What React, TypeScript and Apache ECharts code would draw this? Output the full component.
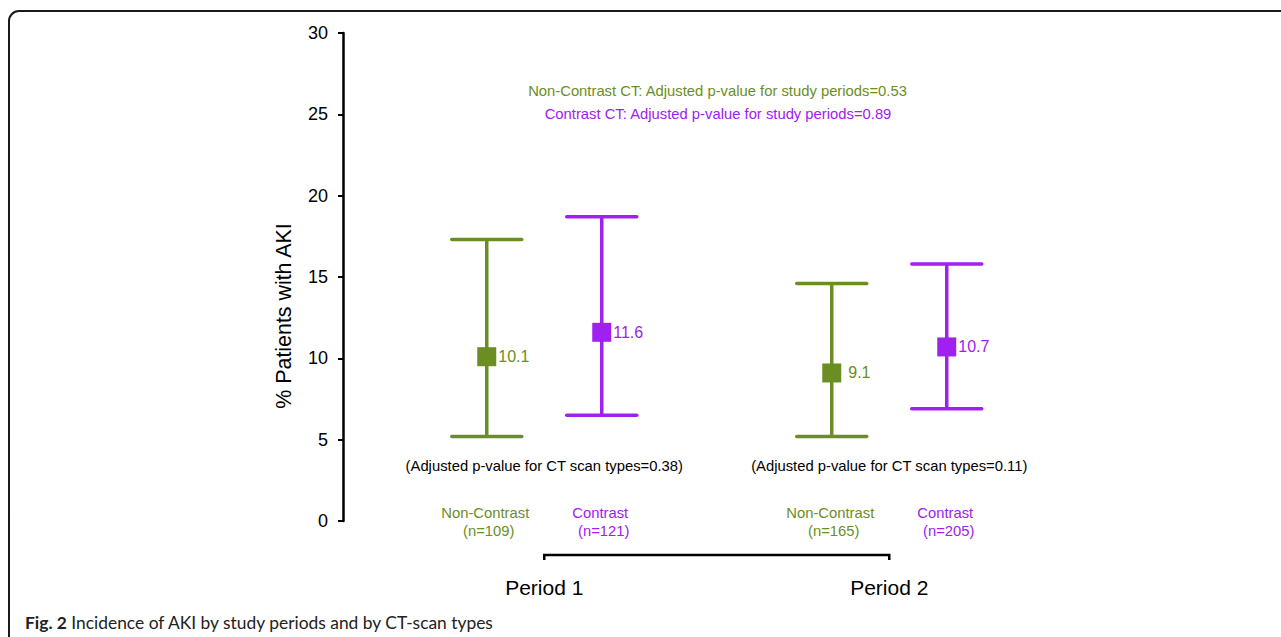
import React, { useEffect, useRef } from "react";
import * as echarts from "echarts";

// ---- data ----
const periods = ["Period 1", "Period 2"];
const periodCenters = [1.5, 4.5];
const ctTypes = ["Non-Contrast", "Contrast"];
const nonContrastPct = [10.1, 9.1];
const nonContrastLow = [5.2, 5.2];
const nonContrastHigh = [17.3, 14.6];
const nonContrastN = [109, 165];
const contrastPct = [11.6, 10.7];
const contrastLow = [6.5, 6.9];
const contrastHigh = [18.7, 15.8];
const contrastN = [121, 205];
const ctTypePValues = ["0.38", "0.11"];
const studyPeriodPValues = ["0.53", "0.89"];
const yTicks = { min: 0, max: 30, interval: 5 };

const GREEN = "#6b8e23";
const PURPLE = "#a020f0";
const FONT = "'Liberation Sans', Arial, sans-serif";
const SMALL = "14.8px " + FONT;

const typeOffset = [-0.5, 0.5];

function App() {
  const ref = useRef<HTMLDivElement>(null);
  useEffect(() => {
    document.body.style.margin = "0";
    const chart = echarts.init(ref.current!, null, { renderer: "svg" });

    const groups = [
      { name: ctTypes[0], pct: nonContrastPct, lo: nonContrastLow, hi: nonContrastHigh, n: nonContrastN, color: GREEN },
      { name: ctTypes[1], pct: contrastPct, lo: contrastLow, hi: contrastHigh, n: contrastN, color: PURPLE },
    ];

    const series: any[] = [];
    groups.forEach((g, gi) => {
      const xs = periodCenters.map((c) => c + typeOffset[gi]);
      series.push({
        type: "custom",
        name: g.name + " CI",
        clip: false,
        z: 2,
        data: xs.map((x, i) => [x, g.lo[i], g.hi[i]]),
        renderItem: (params: any, api: any) => {
          const x = api.value(0);
          const top = api.coord([x, api.value(2)]);
          const bot = api.coord([x, api.value(1)]);
          const half = 35;
          const style = { stroke: g.color, lineWidth: 3.5, lineCap: "round" };
          return {
            type: "group",
            children: [
              { type: "line", shape: { x1: top[0], y1: top[1], x2: bot[0], y2: bot[1] }, style: { stroke: g.color, lineWidth: 3.5 } },
              { type: "line", shape: { x1: top[0] - half, y1: top[1], x2: top[0] + half, y2: top[1] }, style },
              { type: "line", shape: { x1: bot[0] - half, y1: bot[1], x2: bot[0] + half, y2: bot[1] }, style },
            ],
          };
        },
      });
      series.push({
        type: "scatter",
        name: g.name,
        z: 3,
        symbol: "rect",
        symbolSize: 19,
        itemStyle: { color: g.color, opacity: 1 },
        label: {
          show: true,
          position: "right",
          distance: 2,
          color: g.color,
          fontSize: 16,
          fontFamily: FONT,
          formatter: (p: any) => String(p.value[1]),
        },
        data: xs.map((x, i) => ({
          value: [x, g.pct[i]],
          label: { distance: g.pct[i] < 10 ? 7 : 2 },
        })),
      });
      series.push({
        type: "custom",
        name: g.name + " labels",
        clip: false,
        silent: true,
        data: xs.map((x, i) => [x, 0, g.n[i]]),
        renderItem: (params: any, api: any) => {
          const p = api.coord([api.value(0), 0]);
          const common = { fill: g.color, font: SMALL, textAlign: "center", align: "center", textVerticalAlign: "middle", verticalAlign: "middle" };
          return {
            type: "group",
            children: [
              { type: "text", x: p[0] - 1.5, y: p[1] - 8, style: { ...common, text: g.name } },
              { type: "text", x: p[0] + 2, y: p[1] + 10, style: { ...common, text: "(n=" + api.value(2) + ")" } },
            ],
          };
        },
      });
    });

    // CT-type p-values and period labels
    series.push({
      type: "custom",
      name: "period labels",
      clip: false,
      silent: true,
      data: periodCenters.map((c, i) => [c, 0, i]),
      renderItem: (params: any, api: any) => {
        const i = api.value(2);
        const p = api.coord([api.value(0), 0]);
        const base = { textAlign: "center", align: "center", textVerticalAlign: "middle", verticalAlign: "middle" };
        return {
          type: "group",
          children: [
            { type: "text", x: p[0], y: p[1] - 55, style: { ...base, fill: "#000", font: SMALL, text: "(Adjusted p-value for CT scan types=" + ctTypePValues[i] + ")" } },
            { type: "text", x: p[0], y: p[1] + 66, style: { ...base, fill: "#000", font: "21px " + FONT, text: periods[i] } },
          ],
        };
      },
    });
    // bracket between the periods
    series.push({
      type: "custom",
      name: "bracket",
      clip: false,
      silent: true,
      data: [[periodCenters[0], periodCenters[1]]],
      renderItem: (params: any, api: any) => {
        const a = api.coord([api.value(0), 0]);
        const b = api.coord([api.value(1), 0]);
        const y = a[1] + 34;
        return {
          type: "polyline",
          shape: { points: [[a[0], y + 5], [a[0], y], [b[0], y], [b[0], y + 5]] },
          style: { stroke: "#000", lineWidth: 2.5, fill: null },
        };
      },
    });

    chart.setOption({
      animation: false,
      grid: { left: 343, top: 33, width: 718.75, height: 488, containLabel: false },
      xAxis: { type: "value", min: -0.25, max: 6, show: false },
      yAxis: {
        type: "value",
        min: yTicks.min,
        max: yTicks.max,
        interval: yTicks.interval,
        axisLine: { show: true, onZero: false, lineStyle: { color: "#000", width: 2.5 } },
        axisTick: { show: true, length: 5, lineStyle: { color: "#000", width: 2 } },
        axisLabel: { color: "#000", fontSize: 18, fontFamily: FONT, margin: 15 },
        splitLine: { show: false },
      },
      graphic: [
        {
          type: "rect",
          shape: { x: 9, y: 11, width: 1400, height: 800, r: 10 },
          style: { fill: "none", stroke: "#1a1a1a", lineWidth: 2 },
          silent: true,
        },
        {
          type: "text",
          x: 284,
          y: 316,
          rotation: Math.PI / 2,
          style: { text: "% Patients with AKI", fill: "#000", font: "21.4px " + FONT, textAlign: "center", align: "center", textVerticalAlign: "middle", verticalAlign: "middle" },
        },
        {
          type: "text",
          x: 717.5,
          y: 91,
          style: { text: "Non-Contrast CT: Adjusted p-value for study periods=" + studyPeriodPValues[0], fill: GREEN, font: SMALL, textAlign: "center", align: "center", textVerticalAlign: "middle", verticalAlign: "middle" },
        },
        {
          type: "text",
          x: 718,
          y: 114,
          style: { text: "Contrast CT: Adjusted p-value for study periods=" + studyPeriodPValues[1], fill: PURPLE, font: SMALL, textAlign: "center", align: "center", textVerticalAlign: "middle", verticalAlign: "middle" },
        },
        {
          type: "text",
          x: 25,
          y: 622,
          style: {
            text: "{b|Fig. 2} Incidence of AKI by study periods and by CT-scan types",
            fill: "#222",
            font: "17.4px Lato, sans-serif",
            textVerticalAlign: "middle",
            verticalAlign: "middle",
            rich: { b: { fontWeight: "bold", fontSize: 17.4, fontFamily: "Lato, sans-serif", color: "#222" } },
          },
        },
      ],
      series,
    });
    return () => chart.dispose();
  }, []);
  return <div ref={ref} style={{ position: "absolute", left: 0, top: 0, width: 1281, height: 637 }} />;
}

export default App;
